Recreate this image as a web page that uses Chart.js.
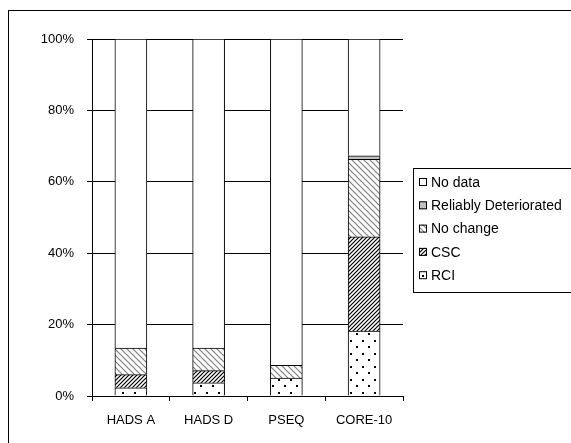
<!DOCTYPE html>
<html>
<head>
<meta charset="utf-8">
<script src="https://cdn.jsdelivr.net/npm/chart.js@4.4.1/dist/chart.umd.min.js"></script>
<style>
  html, body { margin: 0; padding: 0; background: #fff; }
  #wrap { width: 571px; height: 443px; }
</style>
</head>
<body>
<div id="wrap"><canvas id="outcomes"></canvas></div>
<script>
// values, percent of cases per measure
const measures = ["HADS A", "HADS D", "PSEQ", "CORE-10"];
const rci = [2.3, 3.7, 5.0, 18.2];
const csc = [3.7, 3.4, 0, 26.4];
const noChange = [7.4, 6.3, 3.6, 21.7];
const reliablyDeteriorated = [0, 0, 0, 1.0];
const noData = [86.6, 86.6, 91.4, 32.7];
const yTicks = [0, 20, 40, 60, 80, 100];

const FONT = "'Liberation Sans', Arial, sans-serif";

function makePattern(w, h, draw) {
    const c = document.createElement("canvas");
    c.width = w;
    c.height = h;
    const g = c.getContext("2d");
    g.fillStyle = "#fff";
    g.fillRect(0, 0, w, h);
    draw(g);
    return document.getElementById("outcomes").getContext("2d").createPattern(c, "repeat");
}

// dotted fill (RCI)
const dots = makePattern(12, 13, g => {
    g.fillStyle = "#000";
    g.fillRect(2, 2, 2, 2);
    g.fillRect(8, 8, 2, 2);
});
// dense black "/" hatching (CSC)
const fwdHatch = makePattern(4, 4, g => {
    g.strokeStyle = "#000";
    g.lineWidth = 1.2;
    g.beginPath();
    g.moveTo(-1, 5); g.lineTo(5, -1);
    g.moveTo(-1, 1); g.lineTo(1, -1);
    g.moveTo(3, 5); g.lineTo(5, 3);
    g.stroke();
});
// grey "\" hatching (No change)
const backHatch = makePattern(6, 6, g => {
    g.strokeStyle = "#808080";
    g.lineWidth = 1.2;
    g.beginPath();
    g.moveTo(-1, -1); g.lineTo(7, 7);
    g.moveTo(5, -1); g.lineTo(7, 1);
    g.moveTo(-1, 5); g.lineTo(1, 7);
    g.stroke();
});

// page frame + legend box like the spreadsheet export
const frameAndLegend = {
    id: "frameAndLegend",
    beforeDraw(chart) {
        const ctx = chart.ctx;
        ctx.save();
        ctx.fillStyle = "#fff";
        ctx.fillRect(0, 0, chart.width, chart.height);
        ctx.strokeStyle = "#000";
        ctx.lineWidth = 1;
        ctx.strokeRect(8.5, 10.5, 700, 600);
        ctx.restore();
    },
    afterDraw(chart) {
        const ctx = chart.ctx;
        const left = 413, top = 168, rowH = 23.3;
        ctx.save();
        ctx.strokeStyle = "#000";
        ctx.lineWidth = 1;
        ctx.strokeRect(left + 0.5, top + 0.5, 300, 124);
        ctx.font = "14px " + FONT;
        ctx.textBaseline = "middle";
        const sets = chart.data.datasets.slice().reverse();
        sets.forEach((ds, i) => {
            const y = top + 14 + i * rowH;
            ctx.fillStyle = ds.backgroundColor;
            ctx.fillRect(left + 6, y - 4, 8, 8);
            ctx.strokeStyle = "#000";
            ctx.strokeRect(left + 6.5, y - 3.5, 7, 7);
            ctx.fillStyle = "#000";
            ctx.fillText(ds.label, left + 18, y + 1);
        });
        ctx.restore();
    }
};

const makeSet = (label, data, fill) => ({
    label: label,
    data: data,
    backgroundColor: fill,
    borderColor: "#000",
    borderWidth: 1,
    barThickness: 32
});

new Chart(document.getElementById("outcomes"), {
    type: "bar",
    data: {
        labels: measures,
        datasets: [
            makeSet("RCI", rci, dots),
            makeSet("CSC", csc, fwdHatch),
            makeSet("No change", noChange, backHatch),
            makeSet("Reliably Deteriorated", reliablyDeteriorated, "#c0c0c0"),
            makeSet("No data", noData, "#fff")
        ]
    },
    options: {
        responsive: true,
        maintainAspectRatio: false,
        animation: false,
        layout: { padding: { top: 39, right: 168, left: 0, bottom: 0 } },
        scales: {
            x: {
                stacked: true,
                grid: { drawOnChartArea: false, color: "#000", tickLength: 5 },
                border: { color: "#000" },
                ticks: {
                    color: "#000",
                    padding: 12,
                    font: { family: FONT, size: 13 }
                },
                afterFit: s => { s.height = 47; }
            },
            y: {
                stacked: true,
                min: 0,
                max: 100,
                afterBuildTicks: s => { s.ticks = yTicks.map(v => ({ value: v })); },
                grid: { color: "#000", tickLength: 5 },
                border: { color: "#000" },
                ticks: {
                    color: "#000",
                    padding: 13,
                    callback: v => v + "%",
                    font: { family: FONT, size: 13 }
                },
                afterFit: s => { s.width = 92; }
            }
        },
        plugins: {
            legend: { display: false },
            tooltip: { enabled: false }
        }
    },
    plugins: [frameAndLegend]
});
</script>
</body>
</html>
